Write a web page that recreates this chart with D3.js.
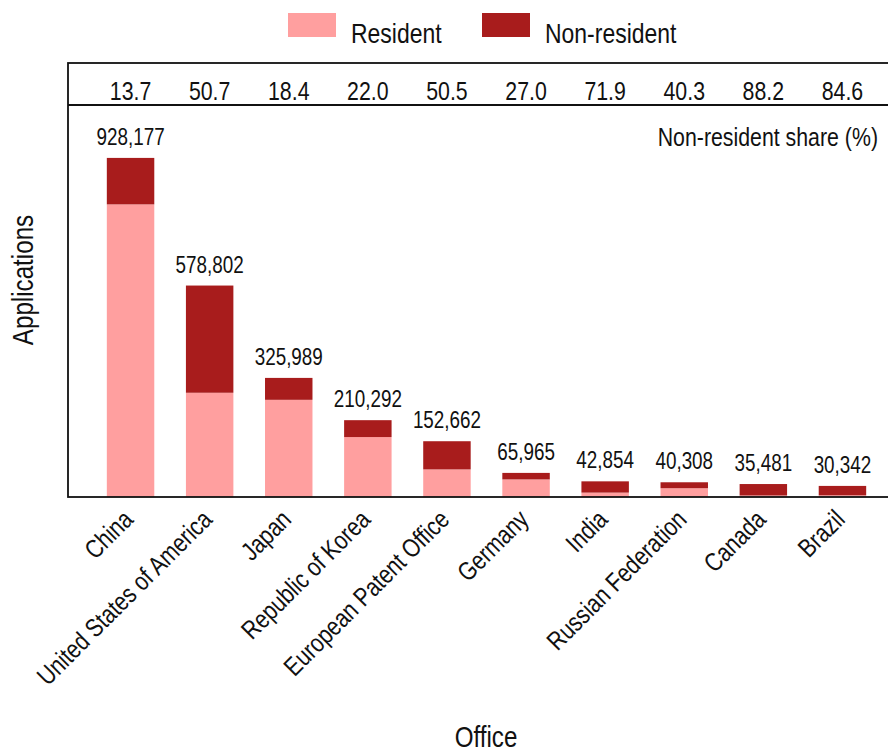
<!DOCTYPE html>
<html>
<head>
<meta charset="utf-8">
<script src="https://cdn.jsdelivr.net/npm/d3@7"></script>
<style>
  body { margin: 0; background: #fff; }
  svg text { font-family: "Liberation Sans", Arial, sans-serif; fill: #111; }
</style>
</head>
<body>
<div id="chart"></div>
<script>
var offices = ["China", "United States of America", "Japan", "Republic of Korea", "European Patent Office",
               "Germany", "India", "Russian Federation", "Canada", "Brazil"];
var totals = [928177, 578802, 325989, 210292, 152662, 65965, 42854, 40308, 35481, 30342];
var nonResShare = [13.7, 50.7, 18.4, 22.0, 50.5, 27.0, 71.9, 40.3, 88.2, 84.6];
var seriesNames = ["Resident", "Non-resident"];
var colors = ["#ff9f9f", "#a81c1c"];

var W = 888, H = 755;
var box = {left: 68, right: 892, top: 63, strip: 105, bottom: 497};
var NARROW = 0.82; // fake a narrow face, none installed

// stacked rows built from totals and share
var rows = offices.map(function(o, i) {
  var nr = totals[i] * nonResShare[i] / 100;
  return {office: o, "Resident": totals[i] - nr, "Non-resident": nr, total: totals[i], share: nonResShare[i]};
});
var stacked = d3.stack().keys(seriesNames)(rows);

var svg = d3.select("#chart").append("svg")
  .attr("width", W)
  .attr("height", H);

// condensed text at (px,py), optionally rotated
function label(sel, px, py, size, anchor, rot) {
  return sel
    .attr("transform", function(d, i) {
      var p = typeof px === "function" ? px(d, i) : px;
      var q = typeof py === "function" ? py(d, i) : py;
      return "translate(" + p + "," + q + ")" + (rot ? " rotate(" + rot + ")" : "") + " scale(" + NARROW + ",1)";
    })
    .attr("text-anchor", anchor)
    .attr("font-size", size);
}

var x = d3.scaleBand()
  .domain(offices)
  .range([91, 882])
  .paddingInner(0.4)
  .paddingOuter(0.2);

var y = d3.scaleLinear()
  .domain([0, 1073000])
  .range([box.bottom, box.strip]);

var cx = function(d) { return x(d.office) + x.bandwidth() / 2; };

// bars
svg.append("g").selectAll("g")
  .data(stacked)
  .enter().append("g")
  .attr("fill", function(d, i) { return colors[i]; })
  .selectAll("rect")
  .data(function(d) { return d; })
  .enter().append("rect")
  .attr("x", function(d) { return x(d.data.office); })
  .attr("width", x.bandwidth())
  .attr("y", function(d) { return y(d[1]); })
  .attr("height", function(d) { return y(d[0]) - y(d[1]); });

// total labels
label(svg.append("g").selectAll("text").data(rows).enter().append("text"),
      cx, function(d) { return y(d.total) - 13; }, 23, "middle")
  .text(function(d) { return d3.format(",")(d.total); });

// share strip
label(svg.append("g").selectAll("text").data(rows).enter().append("text"),
      cx, 100, 26, "middle")
  .text(function(d) { return d.share.toFixed(1); });

label(svg.append("text"), 878, 146, 26, "end")
  .text("Non-resident share (%)");

// frame
var frame = svg.append("g").attr("stroke", "#111").attr("fill", "none");
frame.append("rect")
  .attr("x", box.left).attr("y", box.top)
  .attr("width", box.right - box.left).attr("height", box.bottom - box.top)
  .attr("stroke-width", 1.8);
frame.append("line")
  .attr("x1", box.left).attr("x2", box.right)
  .attr("y1", box.strip).attr("y2", box.strip)
  .attr("stroke-width", 1.8);

// x tick labels
label(svg.append("g").selectAll("text").data(offices).enter().append("text"),
      function(d) { return x(d) + x.bandwidth() / 2 + 4; }, 521, 26, "end", -45)
  .text(function(d) { return d; });

// axis titles
label(svg.append("text"), 486, 747, 29.5, "middle").text("Office");
label(svg.append("text"), 33, 280, 29.5, "middle", -90).text("Applications");

// legend
var legX = [288, 482], legTx = [351, 545];
var leg = svg.append("g");
seriesNames.forEach(function(s, i) {
  leg.append("rect")
    .attr("x", legX[i]).attr("y", 13)
    .attr("width", 48).attr("height", 24)
    .attr("fill", colors[i]);
  label(leg.append("text"), legTx[i], 43, 28, "start").text(s);
});
</script>
</body>
</html>
